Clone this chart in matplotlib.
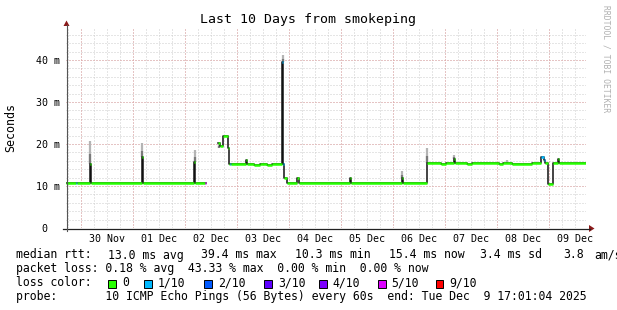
import numpy as np
import pandas as pd
import matplotlib
matplotlib.use("Agg")
import matplotlib.pyplot as plt
import matplotlib.dates as mdates
from matplotlib.patches import Polygon, Rectangle
from matplotlib.lines import Line2D

# ---------------- data ----------------
t_start = "2025-11-29 17:01:04"
t_end = "2025-12-09 17:01:04"

median_times = [
    "2025-11-29 17:01", "2025-11-29 21:45", "2025-11-29 22:15", "2025-11-30 03:55", "2025-11-30 04:25",
    "2025-12-01 04:00", "2025-12-01 04:30", "2025-12-02 04:10", "2025-12-02 04:40",
    "2025-12-02 09:00", "2025-12-02 09:27",
    "2025-12-02 15:22", "2025-12-02 16:10", "2025-12-02 17:20", "2025-12-02 19:50", "2025-12-02 20:15",
    "2025-12-02 20:40", "2025-12-02 21:05", "2025-12-03 03:55", "2025-12-03 04:25",
    "2025-12-03 08:00", "2025-12-03 10:30", "2025-12-03 14:00", "2025-12-03 16:00",
    "2025-12-03 20:50", "2025-12-03 21:20", "2025-12-03 21:45", "2025-12-03 22:50",
    "2025-12-04 03:50", "2025-12-04 04:20", "2025-12-05 03:55", "2025-12-05 04:25",
    "2025-12-06 03:55", "2025-12-06 04:25", "2025-12-06 15:30",
    "2025-12-06 22:00", "2025-12-07 00:30", "2025-12-07 03:55", "2025-12-07 04:25",
    "2025-12-07 10:00", "2025-12-07 12:30", "2025-12-08 01:00", "2025-12-08 02:30",
    "2025-12-08 07:00", "2025-12-08 16:00",
    "2025-12-08 20:10", "2025-12-08 21:30", "2025-12-08 22:10", "2025-12-08 23:20",
    "2025-12-09 02:00", "2025-12-09 04:00", "2025-12-09 04:30",
]
median_ms = [
    10.8, 10.8, 10.8, 15.2, 10.8,
    17.0, 10.8, 15.6, 10.8,
    10.8, np.nan,
    20.3, 19.4, 22.0, 19.0, 15.3,
    15.3, 15.3, 16.3, 15.3,
    15.1, 15.3, 15.1, 15.3,
    39.6, 15.3, 11.8, 10.8,
    11.8, 10.8, 11.8, 10.8,
    11.8, 10.8, 15.5,
    15.2, 15.5, 16.4, 15.5,
    15.2, 15.5, 15.2, 15.5,
    15.2, 15.5,
    17.0, 16.2, 15.5, 10.4,
    15.5, 16.4, 15.5,
]
median_loss = [
    0, 1, 0, 0, 0,
    0, 0, 0, 0,
    5, 0,
    0, 0, 0, 0, 0,
    1, 0, 0, 0,
    0, 0, 0, 0,
    1, 1, 0, 0,
    0, 0, 0, 0,
    0, 0, 0,
    0, 0, 0, 0,
    0, 0, 0, 0,
    0, 0,
    1, 1, 0, 0,
    0, 0, 0,
]

smoke_times = ["2025-11-30 04:10", "2025-12-01 04:15", "2025-12-02 04:25", "2025-12-02 15:40",
               "2025-12-03 21:05", "2025-12-06 04:10", "2025-12-06 15:40", "2025-12-07 04:10",
               "2025-12-08 04:30"]
smoke_low = [15.2, 17.0, 15.6, 19.0, 39.6, 11.8, 15.5, 16.4, 15.5]
smoke_high = [20.7, 20.2, 18.6, 20.3, 41.2, 13.6, 19.0, 17.4, 16.1]

day_labels = ["30 Nov", "01 Dec", "02 Dec", "03 Dec", "04 Dec",
              "05 Dec", "06 Dec", "07 Dec", "08 Dec", "09 Dec"]
y_ticks = [0, 10, 20, 30, 40]
y_tick_labels = ["0  ", "10 m", "20 m", "30 m", "40 m"]

loss_labels = ["0", "1/10", "2/10", "3/10", "4/10", "5/10", "9/10"]
loss_colors = ["#26ff00", "#00b8ff", "#0059ff", "#5e00ff", "#7e00ff", "#dd00ff", "#ff0000"]

rtt_fields = ["13.0 ms avg", "39.4 ms max", "10.3 ms min", "15.4 ms now", "3.4 ms sd", "3.8", "am/s"]
loss_line = "packet loss: 0.18 % avg  43.33 % max  0.00 % min  0.00 % now"
probe_line = "probe:       10 ICMP Echo Pings (56 Bytes) every 60s  end: Tue Dec  9 17:01:04 2025"
title = "Last 10 Days from smokeping"

# ---------------- figure ----------------
plt.rcParams["font.family"] = ["DejaVu Sans Mono"]
W, H = 617, 310
fig = plt.figure(figsize=(W / 100, H / 100), dpi=100)
fig.patch.set_facecolor("white")

def fx(x):
    return x / W

def fy(y):
    return 1 - y / H

ax = fig.add_axes([66 / W, 1 - 228 / H, 520 / W, 200 / H])
x0 = mdates.date2num(pd.Timestamp(t_start))
x1 = mdates.date2num(pd.Timestamp(t_end))
ax.set_xlim(x0, x1)
ax.set_ylim(0, 47.6)
for s in ax.spines.values():
    s.set_visible(False)

minor_col = "#cccccc"
major_col = "#e6a4a4"
dots = (0, (1, 2))
for t in pd.date_range("2025-11-29 18:00", t_end, freq="6h"):
    ax.axvline(mdates.date2num(t), color=minor_col, lw=0.72, ls=dots, zorder=0)
for y in np.arange(2, 48, 2):
    ax.axhline(y, color=minor_col, lw=0.72, ls=dots, zorder=0)
for t in pd.date_range("2025-11-30", t_end, freq="D"):
    ax.axvline(mdates.date2num(t), color=major_col, lw=0.72, ls=dots, zorder=1)
for y in y_ticks[1:]:
    ax.axhline(y, color=major_col, lw=0.72, ls=dots, zorder=1)

# smoke
st = mdates.date2num(pd.to_datetime(smoke_times))
lo = np.array(smoke_low)
hi = np.array(smoke_high)
ax.vlines(st, lo, hi, color="#b4b4b4", lw=1.6, zorder=2)
ax.vlines(st, lo, lo + (hi - lo) * 0.45, color="#7a7a7a", lw=1.6, zorder=2)

# median
mt = mdates.date2num(pd.to_datetime(median_times))
mv = np.array(median_ms, dtype=float)
tt = np.append(mt, x1)
vv = np.append(mv, mv[-1])
ax.step(tt, vv, where="post", color="#111111", lw=1.1, zorder=3)
for i in range(len(mt)):
    if not np.isnan(mv[i]):
        ax.hlines(mv[i], tt[i], tt[i + 1], color=loss_colors[median_loss[i]], lw=1.8, zorder=4)

# ticks / labels
noons = [mdates.date2num(t) for t in pd.date_range("2025-11-30 12:00", periods=len(day_labels), freq="D")]
ax.set_xticks(noons)
ax.set_xticklabels(day_labels, fontsize=7.2)
ax.set_yticks(y_ticks)
ax.set_yticklabels(y_tick_labels, fontsize=7.2)
ax.tick_params(axis="x", length=0, pad=4)
ax.tick_params(axis="y", length=0, pad=4.3)

# axes lines + arrows
fig.add_artist(Line2D([fx(63), fx(590)], [fy(228.5), fy(228.5)], color="#222222", lw=0.9))
fig.add_artist(Line2D([fx(66.5), fx(66.5)], [fy(231), fy(25)], color="#555555", lw=0.8))
arrow_col = "#8b1a1a"
fig.add_artist(Polygon([(fx(589), fy(225)), (fx(594.5), fy(228.5)), (fx(589), fy(232))],
                       closed=True, color=arrow_col, lw=0))
fig.add_artist(Polygon([(fx(63.5), fy(26)), (fx(66.5), fy(20.5)), (fx(69.5), fy(26))],
                       closed=True, color=arrow_col, lw=0))

# texts
fig.text(fx(308), fy(20), title, ha="center", va="center", fontsize=9.5)
fig.text(fx(11), fy(127), "Seconds", ha="center", va="center", rotation=90, fontsize=8.4)
fig.text(fx(606), fy(59), "RRDTOOL / TOBI OETIKER", ha="center", va="center",
         rotation=270, fontsize=5.8, color="#b0b0b0")

lfs = 8.32
fig.text(fx(16), fy(255), "median rtt:", ha="left", va="center", fontsize=lfs)
rtt_x = [107.5, 201, 295, 389, 480, 563, 594]
for xpos, txt in zip(rtt_x, rtt_fields):
    fig.text(fx(xpos), fy(255), txt, ha="left", va="center", fontsize=lfs)
fig.text(fx(16), fy(268.5), loss_line, ha="left", va="center", fontsize=lfs)
fig.text(fx(16), fy(282.5), "loss color:", ha="left", va="center", fontsize=lfs)
box_x = [108.3, 144.3, 204.3, 264.3, 319, 378, 435.7]
for bx, lab, col in zip(box_x, loss_labels, loss_colors):
    fig.add_artist(Rectangle((fx(bx), fy(288)), 7.5 / W, 8 / H, transform=fig.transFigure,
                             facecolor=col, edgecolor="black", lw=0.7))
    fig.text(fx(bx + 13.5), fy(282.5), lab, ha="left", va="center", fontsize=lfs)
fig.text(fx(16), fy(296.5), probe_line, ha="left", va="center", fontsize=lfs)

fig.savefig("out.png", dpi=100, facecolor="white")
